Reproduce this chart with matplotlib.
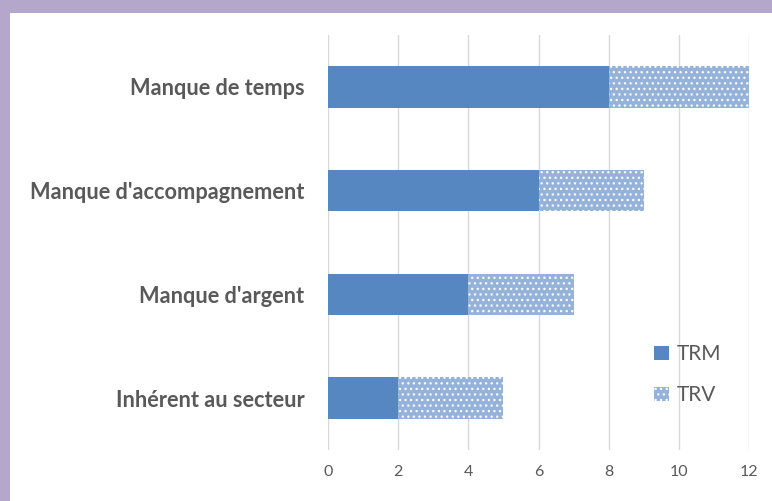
import numpy as np
import matplotlib.pyplot as plt
from matplotlib.patches import Rectangle

plt.rcParams['font.family'] = ['Lato', 'DejaVu Sans']
plt.rcParams['hatch.linewidth'] = 0.9

# données
categories = ["Manque de temps", "Manque d'accompagnement", "Manque d'argent", "Inhérent au secteur"]
trm = [8, 6, 4, 2]
trv = [4, 3, 3, 3]
xticks = [0, 2, 4, 6, 8, 10, 12]

fig = plt.figure(figsize=(7.72, 5.01), dpi=100, facecolor='#B5A6CC')
# fond blanc
bg = Rectangle((10 / 772, 0), 1, 1 - 13 / 501, transform=fig.transFigure,
               facecolor='white', edgecolor='none', zorder=-10)
fig.add_artist(bg)

ax = fig.add_axes([328 / 772, 1 - 450 / 501, 421 / 772, 415 / 501])
ax.set_zorder(5)
ax.set_facecolor('none')

y = np.arange(len(categories))
ax.barh(y, trm, height=0.4, color='#5687C1', label='TRM', zorder=3)
ax.barh(y, trv, left=trm, height=0.4, facecolor='#95B3DA', edgecolor='white',
        hatch='...', linewidth=0, label='TRV', zorder=3)

ax.set_ylim(len(categories) - 0.5, -0.5)
ax.set_xlim(0, 12)
ax.set_xticks(xticks)
ax.set_yticks(y)
ax.set_yticklabels(categories, fontsize=15.7, fontweight='bold', color='#595959')
ax.tick_params(axis='x', labelsize=11.5, labelcolor='#595959', length=0, pad=11)
ax.tick_params(axis='y', length=0, pad=17)
ax.grid(axis='x', color='#D9D9D9', linewidth=1, zorder=0)
for s in ax.spines.values():
    s.set_visible(False)

leg = ax.legend(loc='upper left', bbox_to_anchor=(0.73, 0.30), frameon=False,
                fontsize=15, handlelength=0.7, handleheight=0.7, handletextpad=0.4,
                labelspacing=1.0)
for t in leg.get_texts():
    t.set_color('#595959')

fig.savefig('out.png', dpi=100, facecolor=fig.get_facecolor())
